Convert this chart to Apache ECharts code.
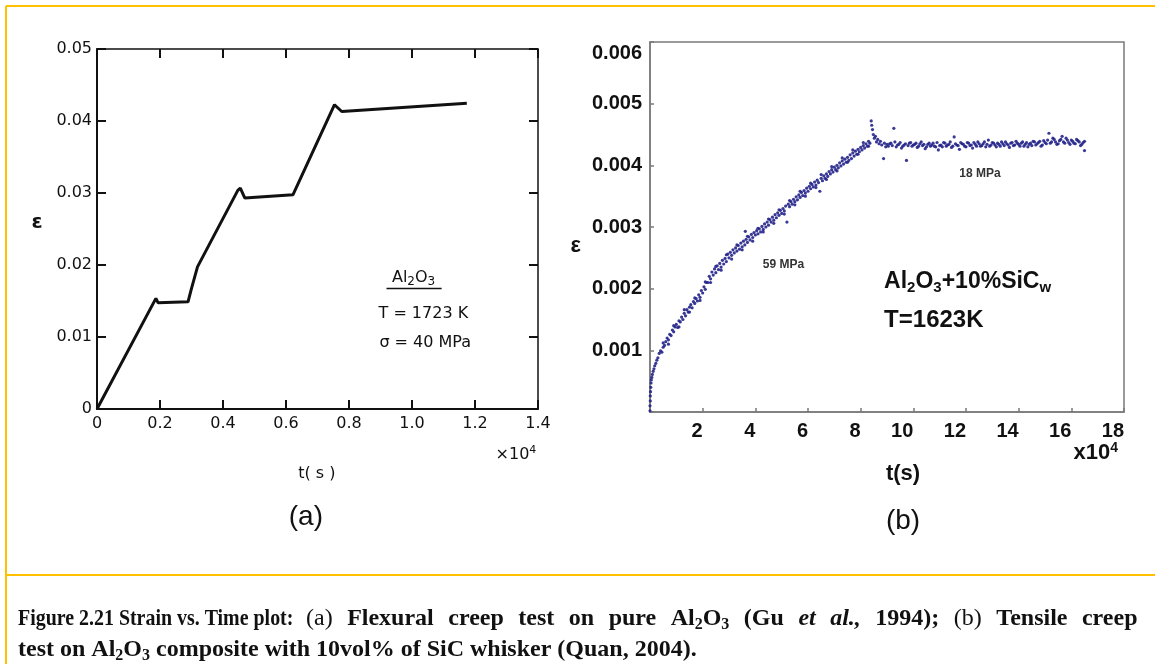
<!DOCTYPE html>
<html><head><meta charset="utf-8">
<script src="https://cdn.jsdelivr.net/npm/echarts@6/dist/echarts.min.js"></script>
<style>html,body{margin:0;padding:0;background:#fff}#c{width:1155px;height:664px}</style>
</head><body><div id="c"></div>
<script>
// ---------- (a) Al2O3 flexural creep ----------
const tA   = [0, 0.187, 0.194, 0.289, 0.299, 0.319, 0.447, 0.455, 0.469, 0.622, 0.754, 0.760, 0.777, 1.174];
const epsA = [0, 0.01537, 0.01474, 0.01489, 0.01658, 0.01974, 0.03037, 0.03068, 0.02932, 0.02974, 0.04226, 0.04247, 0.04132, 0.04247];
const xLabelsA = ['0','0.2','0.4','0.6','0.8','1.0','1.2','1.4'];
const yLabelsA = ['0','0.01','0.02','0.03','0.04','0.05'];

// ---------- (b) Al2O3 + 10% SiCw tensile creep ----------
const tRise = [0.00,0.00,0.01,0.01,0.02,0.03,0.04,0.05,0.07,0.09,
0.12,0.15,0.18,0.22,0.26,0.30,0.35,0.40,0.45,0.50,
0.55,0.60,0.65,0.70,0.75,0.80,0.85,0.90,0.95,1.00,
1.05,1.10,1.15,1.20,1.25,1.30,1.35,1.40,1.45,1.50,
1.55,1.60,1.65,1.70,1.75,1.80,1.85,1.90,1.95,2.00,
2.05,2.10,2.15,2.20,2.25,2.30,2.35,2.40,2.45,2.50,
2.55,2.60,2.65,2.70,2.75,2.80,2.85,2.90,2.95,3.00,
3.05,3.10,3.15,3.20,3.25,3.30,3.35,3.40,3.45,3.50,
3.55,3.60,3.65,3.70,3.75,3.80,3.85,3.90,3.95,4.00,
4.05,4.10,4.15,4.20,4.25,4.30,4.35,4.40,4.45,4.50,
4.55,4.60,4.65,4.70,4.75,4.80,4.85,4.90,4.95,5.00,
5.05,5.10,5.15,5.20,5.25,5.30,5.35,5.40,5.45,5.50,
5.55,5.60,5.65,5.70,5.75,5.80,5.85,5.90,5.95,6.00,
6.05,6.10,6.15,6.20,6.25,6.30,6.35,6.40,6.45,6.50,
6.55,6.60,6.65,6.70,6.75,6.80,6.85,6.90,6.95,7.00,
7.05,7.10,7.15,7.20,7.25,7.30,7.35,7.40,7.45,7.50,
7.55,7.60,7.65,7.70,7.75,7.80,7.85,7.90,7.95,8.00,
8.05,8.10,8.15,8.20,8.25,8.30,8.35,8.40,8.42,8.45,
8.48,8.52,8.56,8.60,8.65,8.70,8.75,8.80,8.87,8.90,8.95,9.00,3.62];
const epsRise = [0.00002,0.00010,0.00018,0.00026,0.00033,0.00040,0.00047,0.00052,0.00056,0.00061,
0.00066,0.00070,0.00075,0.00079,0.00084,0.00088,0.00095,0.00099,0.00097,0.00105,
0.00108,0.00114,0.00120,0.00117,0.00126,0.00124,0.00133,0.00130,0.00138,0.00142,
0.00137,0.00148,0.00146,0.00154,0.00150,0.00160,0.00156,0.00166,0.00162,0.00170,
0.00174,0.00169,0.00179,0.00176,0.00184,0.00180,0.00190,0.00186,0.00197,0.00193,
0.00203,0.00199,0.00210,0.00210,0.00220,0.00216,0.00227,0.00222,0.00232,0.00226,
0.00237,0.00231,0.00241,0.00235,0.00246,0.00240,0.00249,0.00244,0.00256,0.00250,
0.00259,0.00254,0.00263,0.00258,0.00266,0.00261,0.00270,0.00264,0.00274,0.00268,
0.00277,0.00271,0.00280,0.00275,0.00284,0.00279,0.00288,0.00283,0.00291,0.00287,
0.00294,0.00289,0.00297,0.00292,0.00301,0.00296,0.00305,0.00300,0.00308,0.00303,
0.00312,0.00308,0.00316,0.00311,0.00320,0.00315,0.00323,0.00319,0.00327,0.00322,
0.00330,0.00326,0.00334,0.00308,0.00337,0.00333,0.00341,0.00337,0.00345,0.00341,
0.00349,0.00344,0.00352,0.00348,0.00356,0.00351,0.00359,0.00355,0.00363,0.00358,
0.00366,0.00362,0.00369,0.00365,0.00373,0.00368,0.00376,0.00372,0.00358,0.00379,
0.00375,0.00383,0.00379,0.00386,0.00382,0.00390,0.00386,0.00393,0.00389,0.00397,
0.00393,0.00400,0.00396,0.00404,0.00399,0.00407,0.00402,0.00410,0.00405,0.00413,
0.00408,0.00417,0.00411,0.00420,0.00415,0.00423,0.00418,0.00426,0.00422,0.00429,
0.00425,0.00432,0.00428,0.00435,0.00431,0.00439,0.00436,0.00472,0.00465,0.00458,
0.00450,0.00444,0.00447,0.00438,0.00442,0.00435,0.00439,0.00433,0.00411,0.00436,0.00430,0.00434,0.00293];
const tRise2 = [0.5,0.7,0.9,1.1,1.3,1.5,1.7,1.9,2.1,2.3,
2.5,2.7,2.9,3.1,3.3,3.5,3.7,3.9,4.1,4.3,
4.5,4.7,4.9,5.1,5.3,5.5,5.7,5.9,6.1,6.3,
6.5,6.7,6.9,7.1,7.3,7.5,7.7,7.9,8.1,8.3];
const epsRise2 = [0.00112,0.00110,0.00140,0.00138,0.00166,0.00162,0.00185,0.00181,0.00211,0.00210,
0.00236,0.00230,0.00255,0.00248,0.00271,0.00263,0.00285,0.00277,0.00298,0.00292,
0.00313,0.00306,0.00328,0.00321,0.00343,0.00336,0.00358,0.00350,0.00371,0.00364,
0.00385,0.00377,0.00398,0.00391,0.00412,0.00405,0.00425,0.00418,0.00437,0.00431];
const tFlat1 = [9.05,9.15,9.26,9.35,9.45,9.55,9.65,9.74,9.85,9.95,
10.05,10.15,10.25,10.35,10.45,10.55,10.65,10.75,10.85,10.95,
11.05,11.15,11.25,11.35,11.45,11.55,11.65,11.75,11.85,11.95,
12.05,12.15,12.25,12.35,12.45,12.55,12.65,12.75,12.85,12.95,
13.05,13.15,13.25,13.35,13.45,13.55,13.65,13.75,13.85,13.95,
14.05,14.15,14.25,14.35,14.45,14.55,14.65,14.75,14.85,14.95,
15.05,15.15,15.25,15.35,15.45,15.55,15.65,15.75,15.85,15.95,
16.05,16.15,16.25,16.35,16.45,16.50];
const epsFlat1 = [0.00431,0.00436,0.00460,0.00430,0.00434,0.00428,0.00433,0.00408,0.00436,0.00431,
0.00434,0.00429,0.00435,0.00432,0.00427,0.00434,0.00431,0.00436,0.00430,0.00425,
0.00433,0.00437,0.00431,0.00434,0.00429,0.00446,0.00433,0.00426,0.00435,0.00431,
0.00437,0.00432,0.00428,0.00434,0.00438,0.00431,0.00435,0.00430,0.00441,0.00433,
0.00436,0.00430,0.00434,0.00438,0.00432,0.00435,0.00429,0.00437,0.00433,0.00436,
0.00431,0.00438,0.00434,0.00430,0.00436,0.00439,0.00433,0.00437,0.00431,0.00440,
0.00435,0.00452,0.00438,0.00442,0.00434,0.00440,0.00447,0.00436,0.00441,0.00434,
0.00439,0.00435,0.00440,0.00432,0.00437,0.00424];
const tFlat2 = [9.1,9.2,9.3,9.4,9.5,9.6,9.7,9.8,9.9,10.0,
10.1,10.2,10.3,10.4,10.5,10.6,10.7,10.8,10.9,11.0,
11.1,11.2,11.3,11.4,11.5,11.6,11.7,11.8,11.9,12.0,
12.1,12.2,12.3,12.4,12.5,12.6,12.7,12.8,12.9,13.0,
13.1,13.2,13.3,13.4,13.5,13.6,13.7,13.8,13.9,14.0,
14.1,14.2,14.3,14.4,14.5,14.6,14.7,14.8,14.9,15.0,
15.1,15.2,15.3,15.4,15.5,15.6,15.7,15.8,15.9,16.0,
16.1,16.2,16.3,16.4,16.5];
const epsFlat2 = [0.00435,0.00432,0.00438,0.00433,0.00437,0.00431,0.00435,0.00432,0.00437,0.00433,
0.00436,0.00431,0.00438,0.00434,0.00430,0.00436,0.00433,0.00431,0.00437,0.00432,
0.00430,0.00436,0.00433,0.00438,0.00431,0.00435,0.00432,0.00437,0.00434,0.00430,
0.00436,0.00433,0.00437,0.00431,0.00435,0.00432,0.00438,0.00434,0.00431,0.00437,
0.00433,0.00436,0.00431,0.00435,0.00438,0.00433,0.00436,0.00432,0.00439,0.00434,
0.00436,0.00431,0.00437,0.00434,0.00432,0.00438,0.00435,0.00439,0.00433,0.00437,
0.00441,0.00436,0.00444,0.00438,0.00435,0.00442,0.00438,0.00444,0.00437,0.00441,
0.00436,0.00442,0.00438,0.00434,0.00439];
const xLabelsB = ['','2','4','6','8','10','12','14','16','18'];
const yLabelsB = ['','0.001','0.002','0.003','0.004','0.005','0.006'];

// ---------- build ----------
const LF = "'DejaVu Sans', sans-serif";
const AF = "'Liberation Sans', Arial, sans-serif";
const SF = "'Liberation Serif', 'Times New Roman', serif";
const INK = '#111';
const GRAY = '#7a7a7a';

const ptsB = [];
[[tRise, epsRise], [tRise2, epsRise2], [tFlat1, epsFlat1], [tFlat2, epsFlat2]].forEach(([ts, es]) => {
  ts.forEach((t, i) => ptsB.push([t, es[i]]));
});

const chart = echarts.init(document.getElementById('c'), null, {renderer: 'canvas'});

const axA = (pos, labels) => ({
  gridIndex: 0, type: 'value', position: pos,
  min: 0, max: pos === 'bottom' || pos === 'top' ? 1.4 : 0.05,
  interval: pos === 'bottom' || pos === 'top' ? 0.2 : 0.01,
  axisLine: {show: true, onZero: false, lineStyle: {color: INK, width: pos === 'bottom' || pos === 'left' ? 2 : 1.5}},
  axisTick: {show: true, inside: true, length: 9, lineStyle: {color: INK, width: 2}},
  axisLabel: labels ? {show: true, margin: pos === 'bottom' ? 7 : 5, color: INK, fontFamily: LF, fontSize: 16,
    formatter: v => labels[Math.round(v / (pos === 'bottom' ? 0.2 : 0.01))]} : {show: false},
  splitLine: {show: false}
});

chart.setOption({
  animation: false,
  backgroundColor: '#fff',
  grid: [
    {left: 97, top: 49, width: 441, height: 360, show: false},
    {left: 650, top: 42, width: 474, height: 370, show: true, borderColor: GRAY, borderWidth: 1.5, backgroundColor: '#fff'}
  ],
  xAxis: [
    axA('bottom', xLabelsA),
    axA('top', null),
    {gridIndex: 1, type: 'value', min: 0, max: 18, interval: 2, position: 'bottom',
     axisLine: {show: true, onZero: false, lineStyle: {color: GRAY, width: 1.5}},
     axisTick: {show: true, inside: true, length: 4, lineStyle: {color: GRAY, width: 1.5}},
     axisLabel: {show: true, margin: 9, color: INK, fontFamily: AF, fontWeight: 'bold', fontSize: 20, align: 'right',
       formatter: v => xLabelsB[Math.round(v / 2)]},
     splitLine: {show: false}}
  ],
  yAxis: [
    axA('left', yLabelsA),
    axA('right', null),
    {gridIndex: 1, type: 'value', min: 0, max: 0.006, interval: 0.001, position: 'left',
     axisLine: {show: true, onZero: false, lineStyle: {color: GRAY, width: 1.5}},
     axisTick: {show: true, inside: true, length: 4, lineStyle: {color: GRAY, width: 1.5}},
     axisLabel: {show: true, margin: 8, color: INK, fontFamily: AF, fontWeight: 'bold', fontSize: 20,
       formatter: v => {
         const i = Math.round(v / 0.001);
         return i === 6 ? '{t|' + yLabelsB[i] + '}' : yLabelsB[i];
       },
       rich: {t: {fontFamily: AF, fontWeight: 'bold', fontSize: 20, color: INK, padding: [22, 0, 0, 0]}}},
     splitLine: {show: false}}
  ],
  series: [
    {type: 'line', xAxisIndex: 0, yAxisIndex: 0, data: tA.map((t, i) => [t, epsA[i]]),
     showSymbol: false, symbol: 'none', lineStyle: {color: INK, width: 3}, z: 3},
    {type: 'scatter', xAxisIndex: 2, yAxisIndex: 2, data: ptsB,
     symbol: 'circle', symbolSize: 3.2, itemStyle: {color: '#24248a', opacity: 0.9}}
  ]
});

const pA = (x, y) => chart.convertToPixel({xAxisIndex: 0, yAxisIndex: 0}, [x, y]);
const pB = (x, y) => chart.convertToPixel({xAxisIndex: 2, yAxisIndex: 2}, [x, y]);
const txt = (p, text, style, extra) => Object.assign({type: 'text', x: p[0], y: p[1], silent: true, z: 10,
  style: Object.assign({text: text, fill: INK, align: 'center', verticalAlign: 'middle'}, style)}, extra || {});
const fnt = (fam, size, weight, lh, extra) => Object.assign({fontFamily: fam, fontSize: size, fontWeight: weight || 'normal', lineHeight: lh, fill: INK}, extra || {});

const YEL = '#FFC000';
const mkRich = (cs, gap) => ({
  b: fnt(SF, cs, 'bold', 28),
  bi: fnt(SF, cs, 'bold', 28, {fontStyle: 'italic'}),
  n: fnt(SF, cs, 'normal', 28),
  bs: fnt(SF, Math.round(cs * 0.68), 'bold', 12, {verticalAlign: 'bottom'}),
  g: fnt(SF, cs, 'bold', 28, {width: gap})
});
const capTitle = '{b|Figure 2.21 Strain vs. Time plot:}';
const capRest = '{n|(a)}{g| }' +
  '{b|Flexural}{g| }{b|creep}{g| }{b|test}{g| }{b|on}{g| }{b|pure}{g| }{b|Al}{bs|2}{b|O}{bs|3}{g| }{b|(Gu}{g| }' +
  '{bi|et}{g| }{bi|al.,}{g| }{b|1994);}{g| }{n|(b)}{g| }{b|Tensile}{g| }{b|creep}';
const cap2 = '{b|test on Al}{bs|2}{b|O}{bs|3}{b| composite with 10vol% of SiC whisker (Quan, 2004).}';

const g = [
  // frame
  {type: 'line', shape: {x1: 6, y1: 6, x2: 1155, y2: 6}, style: {stroke: YEL, lineWidth: 2}},
  {type: 'line', shape: {x1: 6, y1: 6, x2: 6, y2: 664}, style: {stroke: YEL, lineWidth: 2}},
  {type: 'line', shape: {x1: 6, y1: 575, x2: 1155, y2: 575}, style: {stroke: YEL, lineWidth: 2}},

  // (a) annotations
  txt(pA(-0.19, 0.0258), 'ε', {font: 'bold 20px ' + LF}),
  txt(pA(1.005, 0.0182), '{n|Al}{s|2}{n|O}{s|3}', {rich: {
    n: fnt(LF, 16, 'normal', 20), s: fnt(LF, 12, 'normal', 10, {verticalAlign: 'bottom'})}}),
  {type: 'line', shape: {x1: pA(0.919, 0)[0], y1: pA(0, 0.01674)[1], x2: pA(1.094, 0)[0], y2: pA(0, 0.01674)[1]},
   style: {stroke: INK, lineWidth: 1.5}},
  txt(pA(1.036, 0.01316), 'T = 1723 K', {font: '16px ' + LF}),
  txt(pA(1.042, 0.00921), 'σ = 40 MPa', {font: '16px ' + LF}),
  txt(pA(0.698, -0.00895), 't( s )', {font: '16px ' + LF}),
  txt(pA(1.33, -0.0063), '{m|×10}{p|4}', {rich: {
    m: fnt(LF, 16, 'normal', 20), p: fnt(LF, 11, 'normal', 8, {verticalAlign: 'top'})}}),
  txt(pA(0.663, -0.015), '(a)', {font: '28px ' + AF}),

  // (b) annotations
  txt(pB(-2.82, 0.0027), 'ε', {font: 'bold 22px ' + AF}),
  txt(pB(5.07, 0.00239), '59 MPa', {font: 'bold 12px ' + AF, fill: '#333'}),
  txt(pB(12.53, 0.00386), '18 MPa', {font: 'bold 12px ' + AF, fill: '#333'}),
  txt(pB(8.89, 0.00211), '{m|Al}{s|2}{m|O}{s|3}{m|+10%SiC}{s|w}', {align: 'left', rich: {
    m: fnt(AF, 23, 'bold', 26), s: fnt(AF, 15, 'bold', 12, {verticalAlign: 'bottom'})}}),
  txt(pB(8.89, 0.00148), 'T=1623K', {align: 'left', font: 'bold 24px ' + AF}),
  txt(pB(16.08, -0.00067), '{m|x10}{p|4}', {align: 'left', rich: {
    m: fnt(AF, 22, 'bold', 24), p: fnt(AF, 14, 'bold', 10, {verticalAlign: 'top'})}}),
  txt(pB(9.61, -0.00101), 't(s)', {font: 'bold 22px ' + AF}),
  txt(pB(9.61, -0.00178), '(b)', {font: '28px ' + AF}),

  // caption
  txt([18, 619], capTitle, {align: 'left', rich: mkRich(24, 6)}, {scaleX: 0.83}),
  txt([306, 619], capRest, {align: 'left', rich: mkRich(24, 14.5)}),
  txt([18, 650], cap2, {align: 'left', rich: mkRich(24, 6)})
];
chart.setOption({graphic: g});
</script>
</body></html>
